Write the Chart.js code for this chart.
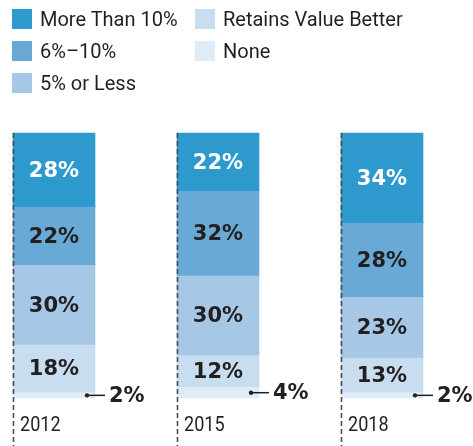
<!DOCTYPE html>
<html>
<head>
<meta charset="utf-8">
<script src="https://cdn.jsdelivr.net/npm/chart.js@4/dist/chart.umd.min.js"></script>
<style>
  html, body { margin: 0; padding: 0; background: #fff; }
  #wrap { position: relative; width: 473px; height: 446px; }
  #c { position: absolute; left: 0; top: 0; }
  .lg { position: absolute; display: flex; align-items: center; font-family: 'Roboto', 'Liberation Sans', sans-serif; font-size: 20px; color: #231f20; white-space: nowrap; }
  .lg span.sw { display: inline-block; width: 20px; height: 20px; margin-right: 8px; }
</style>
</head>
<body>
<div id="wrap">
  <canvas id="c" width="473" height="446"></canvas>
  <div id="legend"></div>
</div>
<script>
const categories = ['2012', '2015', '2018'];
const moreThan10 = [28, 22, 34];
const sixToTen = [22, 32, 28];
const fiveOrLess = [30, 30, 23];
const retainsValue = [18, 12, 13];
const none = [2, 4, 2];

const seriesNames = ['More Than 10%', '6%\u201310%', '5% or Less', 'Retains Value Better', 'None'];
const seriesColors = ['#2e99cd', '#68a9d5', '#a6c8e6', '#c9ddf0', '#dfebf6'];
const seriesValues = [moreThan10, sixToTen, fiveOrLess, retainsValue, none];

// legend (column-major, 3 rows)
const legendEl = document.getElementById('legend');
seriesNames.forEach((name, i) => {
  const col = Math.floor(i / 3), row = i % 3;
  const d = document.createElement('div');
  d.className = 'lg';
  d.style.left = (12 + col * 183) + 'px';
  d.style.top = (9 + row * 32) + 'px';
  d.style.height = '20px';
  d.innerHTML = '<span class="sw" style="background:' + seriesColors[i] + '"></span><span>' + name + '</span>';
  legendEl.appendChild(d);
});

// datasets: bottom of stack first
const datasets = [];
for (let i = seriesNames.length - 1; i >= 0; i--) {
  datasets.push({
    label: seriesNames[i],
    data: seriesValues[i],
    backgroundColor: seriesColors[i],
    borderWidth: 0,
    barThickness: 82,
    clip: false,
    seriesIndex: i
  });
}

const labelFont = "bold 21px 'DejaVu Sans', sans-serif";

const decorPlugin = {
  id: 'decor',
  afterDatasetsDraw(chart) {
    const ctx = chart.ctx;
    const area = chart.chartArea;
    const metas = chart.data.datasets.map((d, i) => chart.getDatasetMeta(i));
    // segment labels
    metas.forEach((meta, di) => {
      const ds = chart.data.datasets[di];
      meta.data.forEach((bar, j) => {
        const v = ds.data[j];
        const p = bar.getProps(['x', 'y', 'base', 'width'], true);
        const right = p.x + p.width / 2;
        const cy = (p.y + p.base) / 2;
        ctx.save();
        ctx.font = labelFont;
        ctx.textBaseline = 'middle';
        if (v >= 8) {
          ctx.fillStyle = ds.seriesIndex === 0 ? '#ffffff' : '#231f20';
          ctx.textAlign = 'center';
          ctx.fillText(v + '%', p.x, cy + 1);
        } else {
          ctx.fillStyle = '#231f20';
          ctx.strokeStyle = '#231f20';
          ctx.lineWidth = 1.5;
          ctx.beginPath();
          ctx.arc(right - 8, cy, 2.2, 0, Math.PI * 2);
          ctx.fill();
          ctx.beginPath();
          ctx.moveTo(right - 8, cy);
          ctx.lineTo(right + 10, cy);
          ctx.stroke();
          ctx.textAlign = 'left';
          ctx.fillText(v + '%', right + 14, cy + 1);
        }
        ctx.restore();
      });
    });
    // dashed lines and year labels at left edge of each bar
    const topMeta = metas[metas.length - 1];
    topMeta.data.forEach((bar, j) => {
      const p = bar.getProps(['x', 'width'], true);
      const left = p.x - p.width / 2;
      ctx.save();
      ctx.strokeStyle = '#4d4d4d';
      ctx.lineWidth = 1.6;
      ctx.setLineDash([5, 3]);
      ctx.beginPath();
      ctx.moveTo(left + 0.5, area.top);
      ctx.lineTo(left + 0.5, chart.height);
      ctx.stroke();
      ctx.setLineDash([]);
      ctx.fillStyle = '#231f20';
      ctx.font = "21px 'Roboto', sans-serif";
      ctx.textAlign = 'left';
      ctx.textBaseline = 'middle';
      ctx.translate(left + 7, 426);
      ctx.scale(0.86, 1);
      ctx.fillText(chart.data.labels[j], 0, 0);
      ctx.restore();
    });
  }
};

new Chart(document.getElementById('c'), {
  type: 'bar',
  data: { labels: categories, datasets: datasets },
  options: {
    responsive: false,
    animation: false,
    layout: { padding: { top: 133, bottom: 48, left: 54, right: 91 } },
    plugins: { legend: { display: false }, tooltip: { enabled: false } },
    scales: {
      x: { stacked: true, display: false, offset: false },
      y: { stacked: true, display: false, min: 0, max: 100 }
    }
  },
  plugins: [decorPlugin]
});
</script>
</body>
</html>
